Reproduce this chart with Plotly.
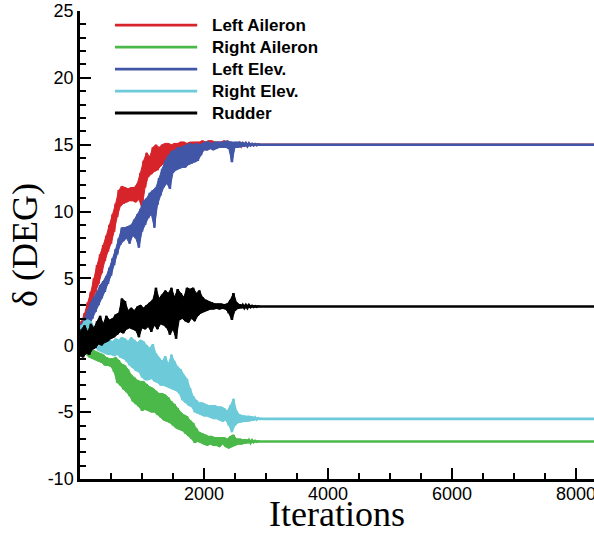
import plotly.graph_objects as go

# ---------------- data ----------------
NAMES = ["Left Aileron", "Right Aileron", "Left Elev.", "Right Elev.", "Rudder"]
COLORS = ["#d7242b", "#4bb94a", "#4256a8", "#6dcbd9", "#000000"]

ITER = list(range(0, 3001, 50))   # iterations where the band envelope was read
HALF_STEP = 25                    # upper envelope sample sits half a step later
LAST_ITER = 8290

RED_LO = [1.0, 1.4, 2.0, 2.6, 3.4, 4.0, 4.6, 5.4, 6.3, 7.0,
          7.6, 8.5, 9.6, 10.4, 10.6, 10.7, 10.8, 10.8, 10.7, 10.9,
          10.3, 11.8, 12.6, 12.8, 13.0, 13.1, 13.4, 13.6, 13.8, 13.9,
          13.9, 14.1, 14.5, 14.6, 14.6, 14.0, 14.1, 14.6, 14.7, 14.7,
          14.7, 14.6, 14.7, 14.8, 14.8, 14.8, 14.8, 14.85, 14.85, 14.9,
          14.9, 14.9, 14.9, 14.95, 14.95, 14.95, 14.97, 14.98, 15.0, 15.0,
          15.0]
RED_HI = [1.8, 2.4, 3.2, 4.0, 5.0, 6.0, 6.8, 7.5, 8.2, 9.0,
          9.8, 10.6, 11.6, 11.9, 11.8, 11.7, 11.8, 11.8, 12.1, 12.9,
          13.8, 14.4, 14.1, 14.8, 15.0, 14.8, 15.0, 15.1, 15.1, 15.0,
          15.1, 15.1, 15.2, 15.2, 15.1, 15.2, 15.2, 15.2, 15.2, 15.3,
          15.2, 15.3, 15.3, 15.2, 15.2, 15.2, 15.3, 15.2, 15.2, 15.15,
          15.15, 15.1, 15.1, 15.1, 15.05, 15.05, 15.03, 15.02, 15.0, 15.0,
          15.0]

GREEN_LO = [-0.3, -0.5, -0.7, -0.9, -1.0, -1.1, -1.2, -1.3, -1.5, -1.5,
            -1.6, -2.0, -2.8, -3.0, -3.3, -3.5, -3.8, -4.2, -4.4, -4.6,
            -4.9, -4.8, -4.9, -5.0, -5.0, -5.2, -5.4, -5.6, -5.7, -5.8,
            -6.0, -6.2, -6.3, -6.4, -6.6, -6.8, -7.0, -7.3, -7.2, -7.3,
            -7.4, -7.5, -7.4, -7.5, -7.5, -7.6, -7.4, -7.6, -7.7, -7.6,
            -7.5, -7.4, -7.4, -7.35, -7.3, -7.3, -7.25, -7.22, -7.2, -7.2,
            -7.2]
GREEN_HI = [0.5, 0.3, -0.1, -0.3, -0.4, -0.5, -0.6, -0.7, -0.9, -1.0,
            -1.0, -0.9, -1.1, -1.4, -1.5, -1.8, -2.2, -2.4, -2.6, -2.7,
            -2.7, -2.9, -3.1, -3.2, -3.4, -3.6, -3.6, -3.7, -3.9, -4.2,
            -4.4, -4.7, -5.0, -5.2, -5.3, -5.6, -5.8, -6.2, -6.5, -6.6,
            -6.7, -6.8, -6.8, -6.9, -6.9, -6.9, -6.9, -7.0, -6.8, -6.7,
            -7.0, -7.0, -7.05, -7.05, -7.1, -7.1, -7.15, -7.18, -7.2, -7.2,
            -7.2]

BLUE_LO = [0.8, 1.0, 1.2, 1.5, 2.0, 2.5, 3.0, 3.5, 4.0, 4.6,
           5.2, 6.0, 6.8, 7.5, 7.8, 8.0, 7.6, 8.2, 8.0, 7.3,
           8.5, 9.0, 9.5, 9.8, 8.8, 10.5, 11.2, 11.8, 12.1, 11.7,
           12.9, 13.1, 13.2, 13.3, 13.3, 13.5, 13.6, 13.7, 13.8, 14.2,
           14.6, 14.6, 14.7, 14.6, 14.7, 14.8, 14.8, 14.8, 14.7, 13.7,
           14.8, 14.8, 14.85, 14.9, 14.9, 14.95, 14.95, 14.97, 15.0, 15.0,
           15.0]
BLUE_HI = [1.6, 2.0, 2.6, 3.2, 3.6, 4.0, 4.5, 4.8, 5.2, 5.8,
           6.5, 7.2, 8.0, 8.8, 8.8, 8.9, 9.0, 9.4, 9.8, 10.2,
           10.8, 11.0, 11.4, 11.6, 11.8, 12.5, 13.2, 13.8, 14.2, 14.5,
           14.6, 14.8, 14.8, 14.9, 15.0, 15.1, 15.0, 15.1, 15.0, 15.1,
           15.2, 15.2, 15.1, 15.2, 15.2, 15.2, 15.2, 15.3, 15.2, 15.2,
           15.2, 15.2, 15.15, 15.1, 15.1, 15.05, 15.05, 15.03, 15.0, 15.0,
           15.0]

CYAN_LO = [0.5, 0.8, 0.9, 0.7, 0.3, -0.2, -0.4, -0.5, -0.6, -0.7,
           -0.7, -0.8, -0.7, -0.9, -1.0, -1.2, -1.5, -1.7, -1.9, -2.0,
           -2.4, -2.6, -2.6, -2.5, -2.7, -2.8, -3.0, -3.0, -3.1, -3.2,
           -3.3, -3.4, -3.6, -4.1, -4.3, -4.5, -4.6, -5.0, -5.1, -5.2,
           -5.3, -5.3, -5.4, -5.5, -5.5, -5.6, -5.7, -5.6, -6.0, -6.5,
           -6.0, -5.8, -5.75, -5.7, -5.7, -5.65, -5.6, -5.55, -5.52, -5.5,
           -5.5]
CYAN_HI = [1.5, 1.8, 1.9, 1.8, 1.4, 0.6, 0.2, 0.1, 0.2, 0.4,
           0.3, 0.5, 0.4, 0.6, 0.5, 0.3, 0.6, 0.4, 0.2, 0.4,
           0.3, 0.0, -0.2, 0.1, -0.6, -0.9, -1.2, -0.8, -1.4, -0.7,
           -1.2, -1.6, -1.8, -2.2, -2.5, -3.2, -3.8, -4.1, -4.3, -4.3,
           -4.4, -4.5, -4.5, -4.5, -4.6, -4.6, -4.7, -4.9, -4.5, -4.0,
           -4.9, -5.2, -5.25, -5.3, -5.3, -5.35, -5.4, -5.45, -5.48, -5.5,
           -5.5]

BLACK_LO = [-0.8, -0.9, -0.6, -0.7, -0.3, -0.2, 0.1, 0.0, 0.2, 0.3,
            0.5, 0.6, 0.8, 1.0, 0.9, 1.2, 1.3, 1.2, 1.1, 0.6,
            1.3, 1.2, 1.4, 1.0, 1.5, 1.2, 1.6, 1.5, 1.3, 0.8,
            1.2, 0.5, 1.9, 2.0, 1.8, 1.7, 2.0, 1.8, 2.2, 2.4,
            2.5, 2.6, 2.7, 2.7, 2.75, 2.7, 2.75, 2.7, 2.4, 1.9,
            2.6, 2.75, 2.8, 2.8, 2.8, 2.85, 2.87, 2.88, 2.9, 2.9,
            2.9]
BLACK_HI = [1.2, 1.5, 1.0, 1.6, 1.3, 1.8, 2.2, 1.6, 2.2, 1.9,
            2.0, 2.3, 2.4, 3.5, 3.3, 2.6, 2.8, 2.6, 2.9, 3.0,
            2.8, 3.0, 3.2, 3.4, 4.3, 3.5, 3.8, 4.1, 3.9, 4.3,
            3.6, 4.2, 3.9, 3.6, 4.3, 4.2, 4.3, 3.9, 4.1, 3.6,
            3.4, 3.3, 3.2, 3.1, 3.1, 3.1, 3.05, 3.1, 3.4, 3.9,
            3.2, 3.05, 3.0, 3.0, 3.0, 2.95, 2.93, 2.92, 2.9, 2.9,
            2.9]

FINAL = [15.0, -7.2, 15.0, -5.5, 2.9]

SERIES = [(RED_LO, RED_HI), (GREEN_LO, GREEN_HI), (BLUE_LO, BLUE_HI),
          (CYAN_LO, CYAN_HI), (BLACK_LO, BLACK_HI)]

Y_TICKS = [-10, -5, 0, 5, 10, 15, 20, 25]
X_TICKS = [2000, 4000, 6000, 8000]

# ---------------- figure ----------------
fig = go.Figure()
for name, color, (lo, hi), fin in zip(NAMES, COLORS, SERIES, FINAL):
    lo_x = list(ITER)
    hi_x = [it + HALF_STEP for it in ITER]
    # solid band between the read envelopes
    fig.add_trace(go.Scatter(x=lo_x + hi_x[::-1], y=list(lo) + list(hi)[::-1],
                             mode="lines", fill="toself", fillcolor=color,
                             line=dict(color=color, width=1, simplify=False),
                             showlegend=False, hoverinfo="skip"))
    # jagged oscillating trace on top
    xs, ys = [], []
    for xl, xh, a, b in zip(lo_x, hi_x, lo, hi):
        xs += [xl, xh]
        ys += [a, b]
    xs.append(LAST_ITER)
    ys.append(fin)
    fig.add_trace(go.Scatter(x=xs, y=ys, mode="lines", name=name,
                             line=dict(color=color, width=2.6, simplify=False),
                             showlegend=False, hoverinfo="skip"))

# legend drawn as decoration in paper coordinates
LEG_X0, LEG_X1, LEG_TX = 0.068, 0.228, 0.253
LEG_Y = [0.970, 0.923, 0.876, 0.829, 0.782]
shapes, annotations = [], []
for name, color, ly in zip(NAMES, COLORS, LEG_Y):
    shapes.append(dict(type="line", xref="paper", yref="paper",
                       x0=LEG_X0, x1=LEG_X1, y0=ly, y1=ly,
                       line=dict(color=color, width=2.8)))
    annotations.append(dict(xref="paper", yref="paper", x=LEG_TX, y=ly,
                            text="<b>%s</b>" % name, showarrow=False,
                            xanchor="left", yanchor="middle",
                            font=dict(family="Liberation Sans", size=17, color="black")))

tickfont = dict(family="Liberation Sans", size=18, color="black")
titlefont = dict(family="Liberation Serif", size=36, color="black")

# x-axis title as a text placed below the tick labels
annotations.append(dict(xref="paper", yref="paper", x=0.5, y=-0.0748,
                        text="Iterations", showarrow=False,
                        xanchor="center", yanchor="middle", font=titlefont))

fig.update_layout(
    width=594, height=533,
    margin=dict(l=80, r=0, t=11, b=54),
    paper_bgcolor="white", plot_bgcolor="white",
    shapes=shapes, annotations=annotations,
    xaxis=dict(range=[0, LAST_ITER], tickvals=X_TICKS, ticktext=[str(v) for v in X_TICKS],
               ticks="inside", ticklen=11, tickwidth=2, tickcolor="black",
               ticklabeloverflow="allow", ticklabelstandoff=-3,
               minor=dict(dtick=500, tick0=0, ticks="inside", ticklen=6, tickwidth=1.5,
                          tickcolor="black", showgrid=False),
               showline=True, linecolor="black", linewidth=2.5,
               showgrid=False, zeroline=False, tickfont=tickfont,
               automargin=False),
    yaxis=dict(range=[-10, 25], tickvals=Y_TICKS, ticktext=[str(v) for v in Y_TICKS],
               ticks="inside", ticklen=11, tickwidth=2, tickcolor="black",
               minor=dict(dtick=1, tick0=0, ticks="inside", ticklen=6, tickwidth=1.5,
                          tickcolor="black", showgrid=False),
               showline=True, linecolor="black", linewidth=2.5,
               showgrid=False, zeroline=False, tickfont=tickfont,
               title=dict(text="δ (DEG)", font=titlefont, standoff=0),
               automargin=False),
)

fig.write_html("out.html")
